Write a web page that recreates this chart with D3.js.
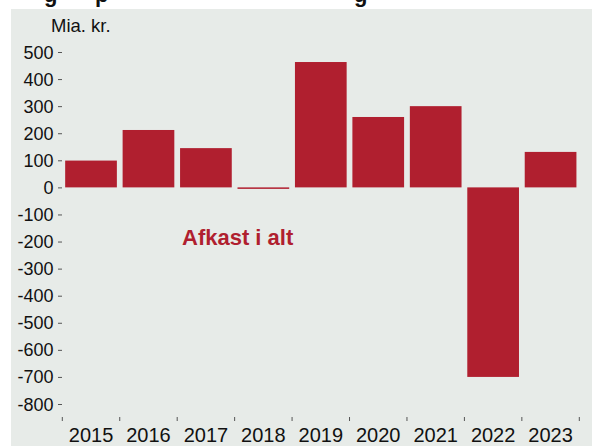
<!DOCTYPE html>
<html><head><meta charset="utf-8">
<script src="https://cdn.jsdelivr.net/npm/d3@7"></script>
<style>body{margin:0;background:#fff}svg{display:block;font-family:"Liberation Sans",Arial,sans-serif}</style>
</head><body>
<svg id="c" width="592" height="446"></svg>
<script>
const years = ["2015","2016","2017","2018","2019","2020","2021","2022","2023"];
const afkast = [99, 212, 145, -4, 463, 260, 300, -700, 131];
const yTicks = [500,400,300,200,100,0,-100,-200,-300,-400,-500,-600,-700,-800];
const unitLabel = "Mia. kr.";
const seriesLabel = "Afkast i alt";

const svg = d3.select("#c");
svg.append("rect").attr("x",11).attr("y",9).attr("width",581).attr("height",437).attr("fill","#e7ebe8");
// title, cut off by the top edge as in the reference
const tg = svg.append("g").attr("font-weight","bold").attr("font-size",22).attr("fill","#111");
tg.append("text").attr("x",44).attr("y",1.5).text("g");
tg.append("text").attr("x",95).attr("y",1.5).text("p");
tg.append("text").attr("x",354).attr("y",1.5).text("g");

const x = d3.scaleBand().domain(years).range([62.3,579.3]).paddingInner(0.1).paddingOuter(0.05);
const y = d3.scaleLinear().domain([500,-800]).range([52,404]);

const ya = svg.append("g");
yTicks.forEach(v=>{
  ya.append("text").attr("x",53.5).attr("y",y(v)+6.5).attr("text-anchor","end")
    .attr("font-size",18).attr("fill","#111").text(v<0?"-"+Math.abs(v):v);
  ya.append("line").attr("x1",58).attr("x2",62).attr("y1",y(v)+0.5).attr("y2",y(v)+0.5)
    .attr("stroke","#555").attr("stroke-width",1);
});
svg.append("text").attr("x",51).attr("y",32).attr("font-size",18.5).attr("fill","#111").text(unitLabel);

const step = x.step();
const bounds = years.map(d=>x(d)-x.paddingInner()*step/2).concat([x(years[years.length-1])+x.bandwidth()+x.paddingInner()*step/2]);
bounds.forEach(b=>{
  svg.append("line").attr("x1",b).attr("x2",b).attr("y1",417).attr("y2",421).attr("stroke","#555");
});
years.forEach(d=>{
  svg.append("text").attr("x",x(d)+x.bandwidth()/2).attr("y",441.5).attr("text-anchor","middle")
    .attr("font-size",20).attr("fill","#111").text(d);
});

svg.append("g").selectAll("rect").data(years).join("rect")
  .attr("x",d=>x(d)).attr("width",x.bandwidth())
  .attr("y",(d,i)=>Math.min(y(afkast[i]),y(0)))
  .attr("height",(d,i)=>Math.max(1.5,Math.abs(y(afkast[i])-y(0))))
  .attr("fill","#b01f2f");

svg.append("text").attr("x",182).attr("y",245).attr("font-size",22).attr("font-weight","bold")
  .attr("fill","#b01f2f").text(seriesLabel);
</script>
</body></html>
